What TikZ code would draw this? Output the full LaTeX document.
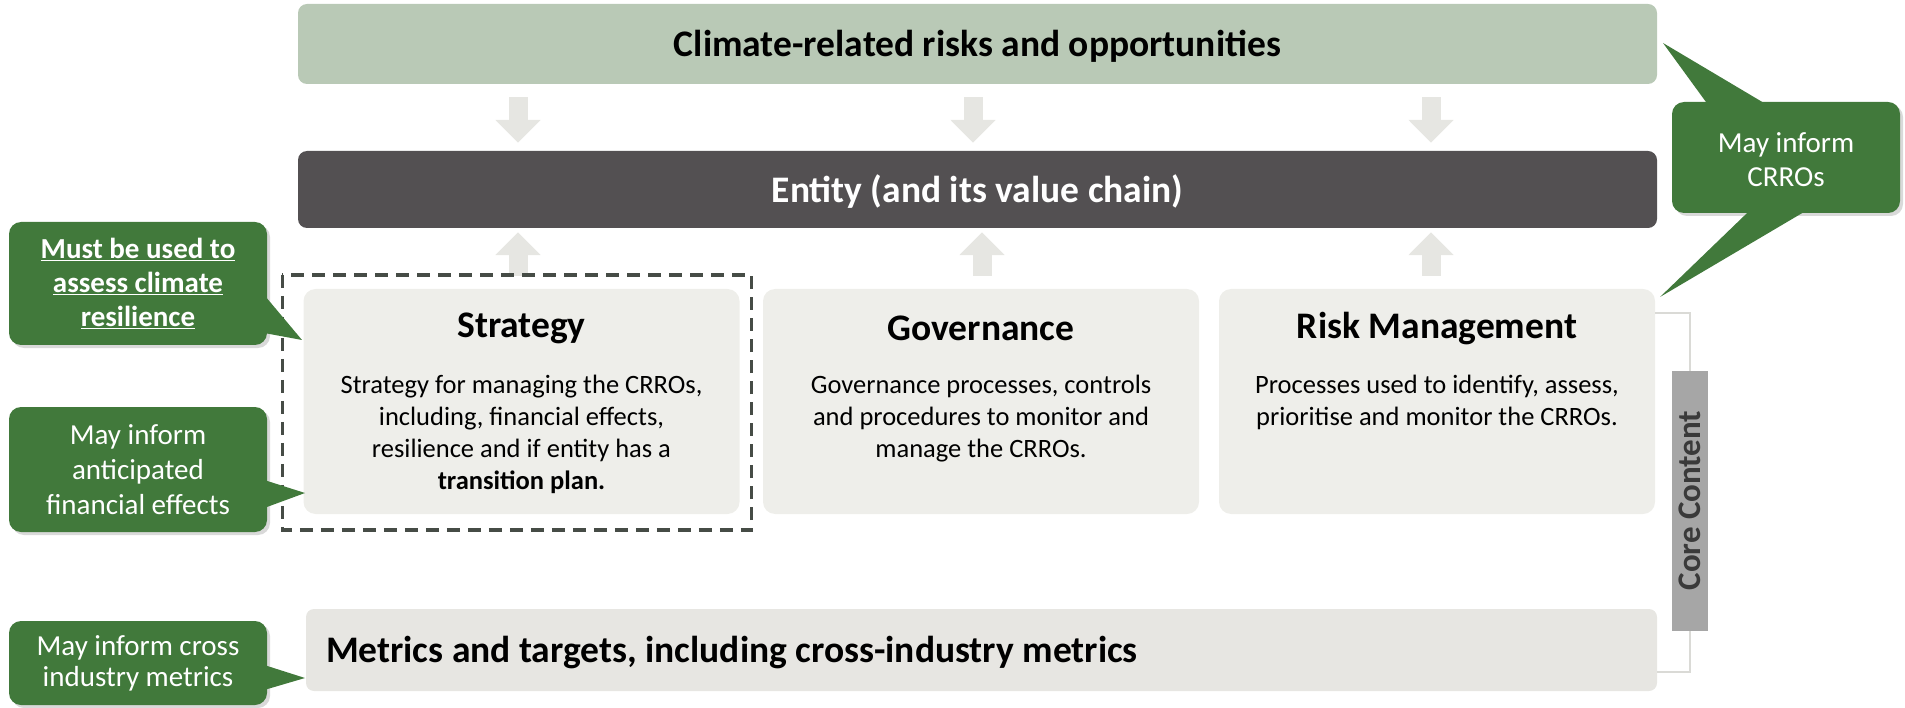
\documentclass[tikz,border=0pt]{standalone}
\usepackage{fontspec}
\setmainfont{Carlito}
\usetikzlibrary{arrows.meta,shadows}

\definecolor{crrogreen}{HTML}{B9C9B6}
\definecolor{entitygrey}{HTML}{535052}
\definecolor{pillargrey}{HTML}{EEEEEA}
\definecolor{metricgrey}{HTML}{E7E6E2}
\definecolor{flowgrey}{HTML}{E6E6E2}
\definecolor{callgreen}{HTML}{41793B}
\definecolor{dashgrey}{HTML}{464C46}
\definecolor{coregrey}{HTML}{A6A6A6}
\definecolor{coretext}{HTML}{3A3A3A}
\definecolor{bracegrey}{HTML}{DADAD6}

\tikzset{
  band/.style={rounded corners=9pt, inner sep=0pt, minimum width=1359pt,
    font=\fontsize{37.5}{45}\selectfont\bfseries},
  pillar/.style={fill=pillargrey, rounded corners=12pt, inner sep=0pt,
    minimum width=436pt, minimum height=225pt},
  head/.style={inner sep=0pt, font=\fontsize{37.5}{45}\selectfont\bfseries},
  body/.style={inner sep=0pt, anchor=north, align=center,
    font=\fontsize{26.5}{32}\selectfont},
  callout/.style={fill=callgreen, rounded corners=12pt, text=white, align=center,
    inner sep=0pt, minimum width=258pt,
    drop shadow={opacity=0.3, shadow xshift=3pt, shadow yshift=-3pt}},
  pointer/.style={fill=callgreen},
  flow/.style={flowgrey, line width=19pt, -{Triangle[width=44pt,length=23pt]}},
}

\begin{document}
\begin{tikzpicture}[x=1pt, y=-1pt]
    \useasboundingbox (0,0) rectangle (1905,708);

    % bands
    \node[band, fill=crrogreen, minimum height=80pt] (crro) at (977.5,44) {};
    \node[head] (crrotext) at ([yshift=-2pt]crro.center) {Climate-related risks and opportunities};
    \node[band, fill=entitygrey, minimum height=77pt] (entity) at (977.5,189.5) {};
    \node[head, text=white] (entitytext) at ([yshift=-2pt]entity.center) {Entity (and its value chain)};

    % pillars
    \node[pillar] (strat) at (521.5,401.5) {};
    \node[pillar] (gov) at (981,401.5) {};
    \node[pillar] (risk) at (1437,401.5) {};
    \node[head] (strathead) at ([yshift=-40pt]strat.north) {Strategy};
    \node[head] (govhead) at ([yshift=-40pt]gov.north) {Governance};
    \node[head] (riskhead) at ([yshift=-40pt]risk.north) {Risk Management};
    \node[body] (stratbody) at ([yshift=-86.5pt]strat.north)
        {Strategy for managing the CRROs,\\ including, financial effects,\\
         resilience and if entity has a\\ \textbf{transition plan.}};
    \node[body] (govbody) at ([yshift=-86.5pt]gov.north)
        {Governance processes, controls\\ and procedures to monitor and\\ manage the CRROs.};
    \node[body] (riskbody) at ([yshift=-86.5pt]risk.north)
        {Processes used to identify, assess,\\ prioritise and monitor the CRROs.};

    % metrics
    \node[fill=metricgrey, rounded corners=8pt, inner sep=0pt, minimum width=1351pt,
        minimum height=82pt] (metrics) at (981.5,650) {};
    \node[head, anchor=west] (metricstext) at ([xshift=20pt,yshift=-3pt]metrics.west)
        {Metrics and targets, including cross-industry metrics};

    % block arrows
    \foreach \x in {518,973,1431}
        \draw[flow, shorten <=13pt, shorten >=8pt] (crro.south -| \x,0) -- (entity.north -| \x,0);
    \foreach \x in {518,982,1431}
        \draw[flow, shorten <=13pt, shorten >=4pt] (strat.north -| \x,0) -- (entity.south -| \x,0);

    \draw[dashgrey, line width=3.5pt, dash pattern=on 13pt off 8pt]
        ([xshift=-21pt,yshift=14pt]strat.north west) rectangle ([xshift=12pt,yshift=-16pt]strat.south east);

    % core content
    \draw[bracegrey, line width=2.5pt] (risk.east |- 0,313) -- (1690,313) -- (1690,672)
        -- (metrics.east |- 0,672);
    \node[fill=coregrey, text=coretext, rotate=90, inner sep=0pt, minimum width=260pt,
        minimum height=36pt, font=\fontsize{33}{38}\selectfont\bfseries] (core) at (1690,500.5)
        {Core Content};

    % callouts
    \coordinate (musttip) at (302,340);
    \coordinate (antictip) at (305,493);
    \coordinate (crosstip) at (305,678);
    \coordinate (uptip) at (1663,43);
    \coordinate (downtip) at (1660,297);

    \node[callout, minimum height=123pt, font=\fontsize{29}{34}\selectfont\bfseries] (must)
        at (138,283.5) {\underline{Must be used to}\\ \underline{assess climate}\\ \underline{resilience}};
    \fill[pointer] ([xshift=-3pt]must.east |- 0,295) -- (musttip) -- ([xshift=-3pt]must.east |- 0,333) -- cycle;

    \node[callout, minimum height=125pt, font=\fontsize{29}{35}\selectfont] (antic)
        at (138,469.5) {May inform\\ anticipated\\ financial effects};
    \fill[pointer] ([xshift=-3pt]antic.east |- 0,480) -- (antictip) -- ([xshift=-3pt]antic.east |- 0,508) -- cycle;

    \node[callout, minimum height=84pt, font=\fontsize{29}{31}\selectfont] (cross)
        at (138,663) {May inform cross\\ industry metrics};
    \fill[pointer] ([xshift=-3pt]cross.east |- 0,665) -- (crosstip) -- ([xshift=-3pt]cross.east |- 0,690) -- cycle;

    \node[callout, minimum width=228pt, minimum height=111pt] (inform) at (1786,157.5) {};
    \node[text=white, align=center, inner sep=0pt, font=\fontsize{29}{34}\selectfont] (informtext)
        at ([yshift=-2pt]inform.center) {May inform\\ CRROs};
    \fill[pointer] ([yshift=-3pt]inform.north -| 1708,0) -- (uptip) -- ([yshift=-3pt]inform.north -| 1767,0) -- cycle;
    \fill[pointer] ([yshift=3pt]inform.south -| 1750,0) -- (downtip) -- ([yshift=3pt]inform.south -| 1807,0) -- cycle;
\end{tikzpicture}
\end{document}
